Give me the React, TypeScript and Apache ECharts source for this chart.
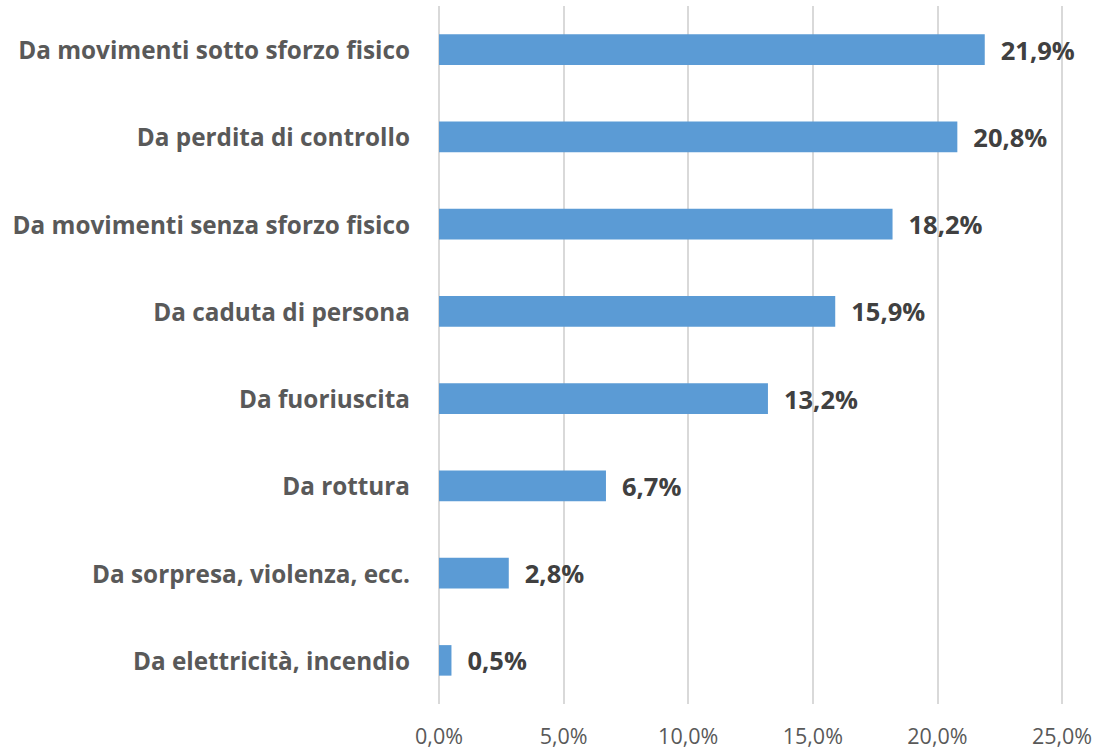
import React, { useEffect, useRef } from "react";
import * as echarts from "echarts";

const categories = [
  "Da movimenti sotto sforzo fisico",
  "Da perdita di controllo",
  "Da movimenti senza sforzo fisico",
  "Da caduta di persona",
  "Da fuoriuscita",
  "Da rottura",
  "Da sorpresa, violenza, ecc.",
  "Da elettricità, incendio",
];
const values = [21.9, 20.8, 18.2, 15.9, 13.2, 6.7, 2.8, 0.5];

const fmt = (v: number) => v.toFixed(1).replace(".", ",") + "%";

export default function App() {
  const ref = useRef<HTMLDivElement>(null);
  useEffect(() => {
    if (!ref.current) return;
    const chart = echarts.init(ref.current, undefined, { renderer: "svg" });
    chart.setOption({
      animation: false,
      grid: { left: 439, right: 34, top: 6, bottom: 45, containLabel: false },
      xAxis: {
        type: "value",
        min: 0,
        max: 25,
        interval: 5,
        axisLine: { show: false },
        axisTick: { show: false },
        splitLine: { lineStyle: { color: "#d9d9d9", width: 2 } },
        axisLabel: {
          formatter: (v: number) => fmt(v),
          color: "#595959",
          fontFamily: "Open Sans",
          fontSize: 21.5,
          margin: 20,
        },
      },
      yAxis: {
        type: "category",
        data: categories,
        inverse: true,
        axisLine: { show: false },
        axisTick: { show: false },
        axisLabel: {
          color: "#595959",
          fontFamily: "Open Sans",
          fontWeight: "bold",
          fontSize: 24.3,
          margin: 29,
        },
      },
      series: [
        {
          type: "bar",
          data: values,
          barWidth: "35%",
          itemStyle: { color: "#5B9BD5" },
          label: {
            show: true,
            position: "right",
            distance: 16,
            formatter: (p: any) => fmt(p.value),
            color: "#404040",
            fontFamily: "Open Sans",
            fontWeight: "bold",
            fontSize: 25.5,
          },
        },
      ],
    });
    return () => chart.dispose();
  }, []);
  return (
    <div
      ref={ref}
      style={{ position: "fixed", left: 0, top: 0, width: 1096, height: 749, background: "#fff" }}
    />
  );
}
